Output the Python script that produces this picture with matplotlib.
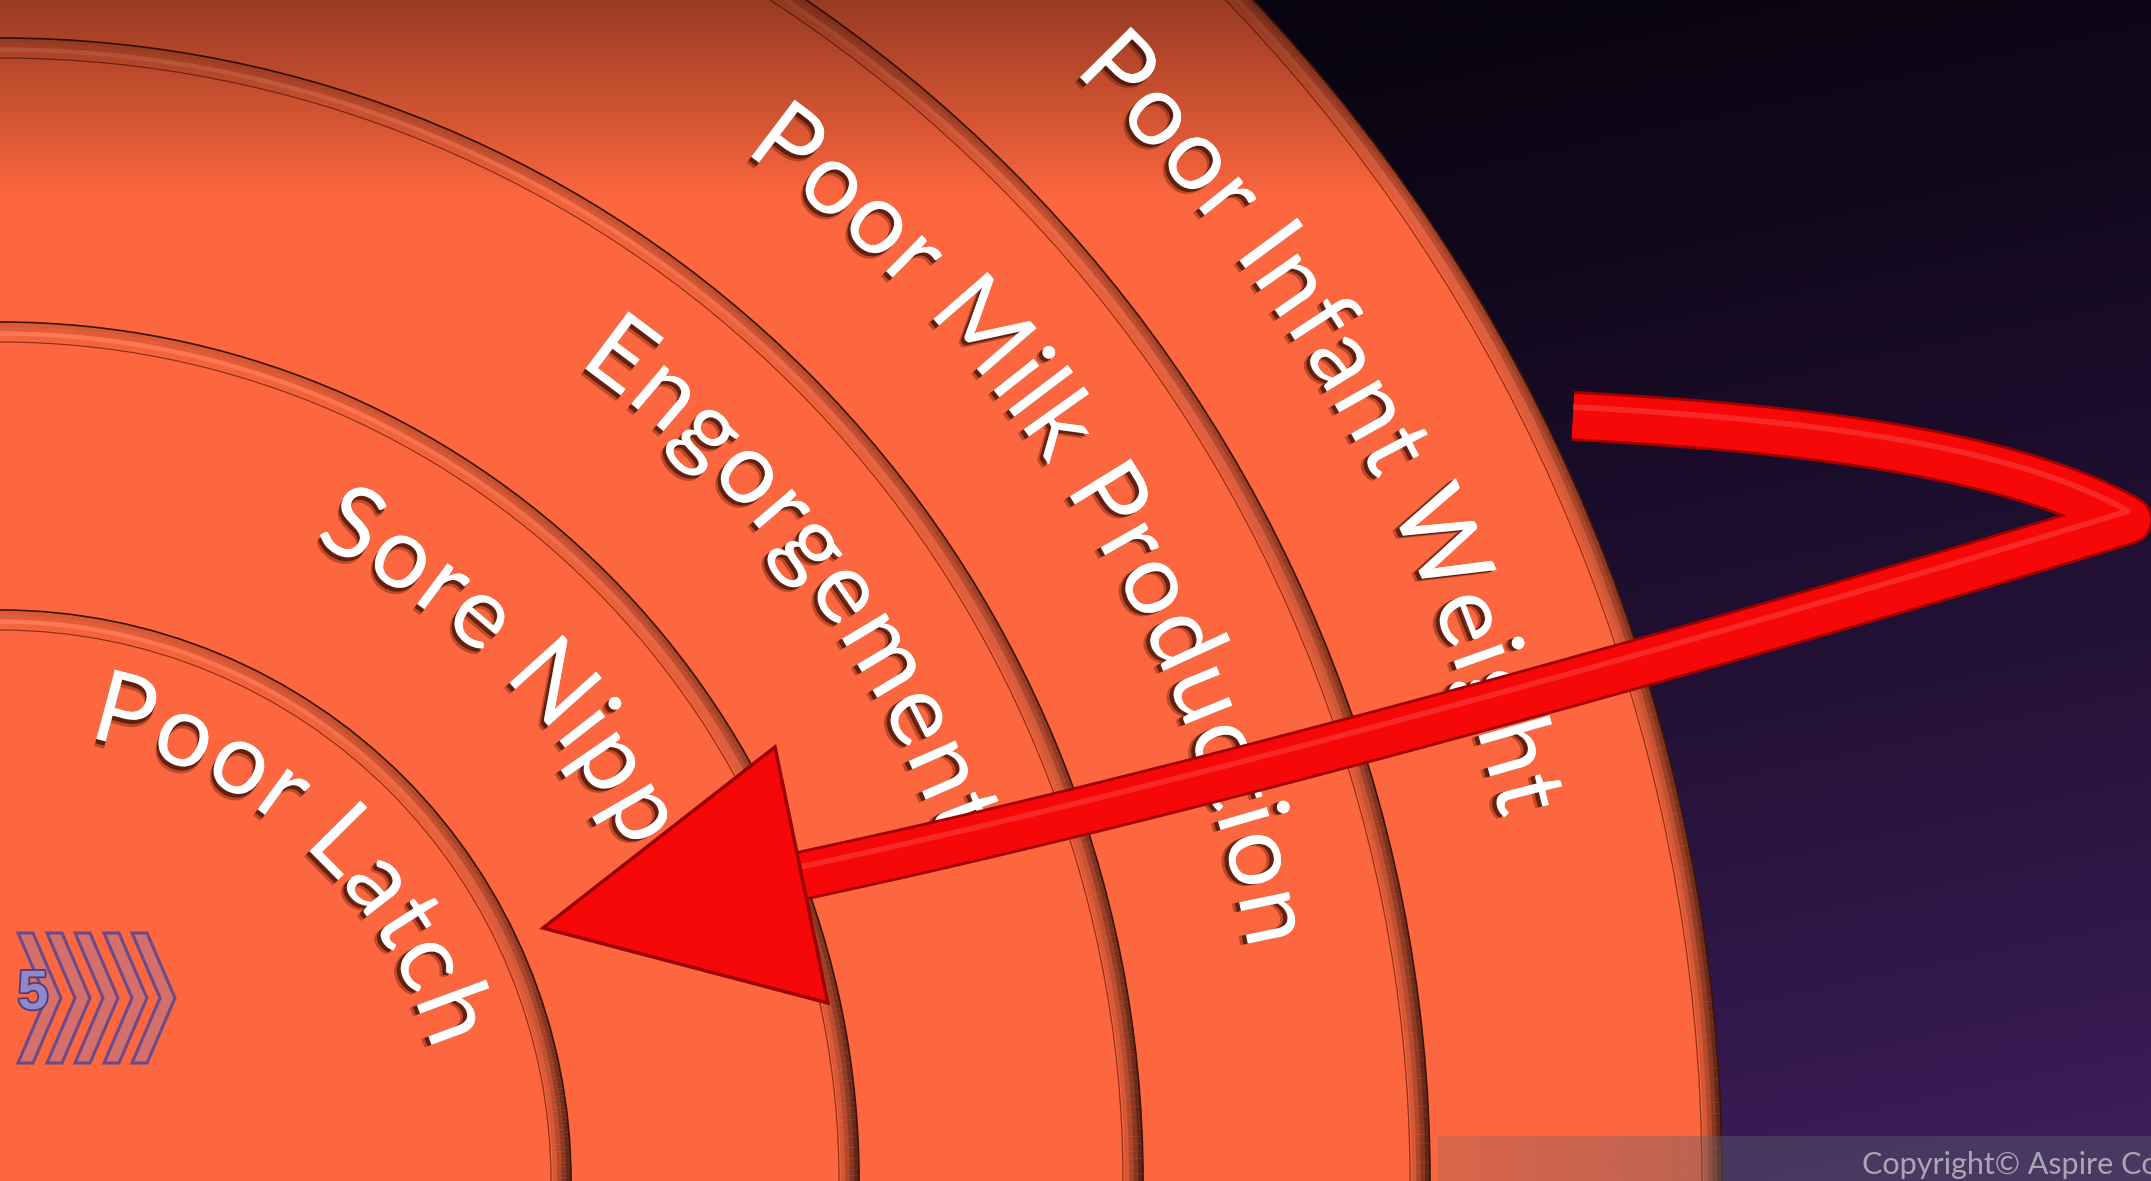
"""Concentric ring diagram: breastfeeding problem cascade with a curved red arrow."""
import numpy as np
import matplotlib

matplotlib.use("Agg")
import matplotlib.pyplot as plt
import matplotlib.patheffects as pe
from matplotlib.collections import LineCollection
from matplotlib.font_manager import FontProperties, findfont, get_font
from matplotlib.patches import Circle, Polygon

W, H = 2151, 1181

# ring labels, innermost first
labels = ["Poor Latch", "Sore Nipples", "Engorgement", "Poor Milk Production", "Poor Infant Weight"]
ring_radii = [571, 859, 1143, 1430, 1722]
label_radii = [452, 712, 1001, 1270, 1544]
label_start_deg = [79, 64, 54.8, 54.2, 46]

# step marker (bottom-left)
chevron_x = [18, 47, 75, 104, 132]
step_label = "5"

copyright_text = "Copyright\u00a9 Aspire Consulting"

# arrow geometry (bezier control points, pixel coords with origin bottom-left)
arrow_upper = [(1573, 765), (1800, 753), (2010, 728), (2128, 661)]
arrow_lower = [(2128, 661), (2000, 621), (1300, 411), (800, 305)]
arrow_head = [(775, 434), (543, 253), (828, 178)]

ORANGE = np.array([253, 103, 63]) / 255
FONT = "Lato"
FS = 72  # pt at dpi 100 -> ~100 px em
TRACK = 1.035


def bez(P, n=150):
    P = np.asarray(P, float)
    t = np.linspace(0, 1, n)[:, None]
    return (1 - t) ** 3 * P[0] + 3 * (1 - t) ** 2 * t * P[1] + 3 * (1 - t) * t ** 2 * P[2] + t ** 3 * P[3]


def bevel(ax, R):
    th = np.linspace(0, np.pi / 2, 241)
    mid = (th[:-1] + th[1:]) / 2
    light = np.sin(mid)
    for j in range(4):
        r = R - 18 + j * 4.5 + 2.25
        pts = np.column_stack([r * np.cos(th), r * np.sin(th)])
        segs = np.stack([pts[:-1], pts[1:]], axis=1)
        d = (j + 1) / 4 * (0.14 + 0.5 * (1 - light))
        cols = np.clip(ORANGE[None, :] * (1 - d[:, None]), 0, 1)
        if j == 1:
            cols = np.clip(cols + 0.10 * light[:, None], 0, 1)
        ax.add_collection(LineCollection(segs, colors=cols, linewidths=4.5 * 0.72 + 0.4,
                                         capstyle="butt", zorder=2))
    ax.add_patch(Circle((0, 0), R, fill=False, ec="#3a1408", lw=1.2, zorder=2.1))
    ax.add_patch(Circle((0, 0), R - 20, fill=False, ec="#8c3218", lw=0.9, zorder=2.1))


def arc_text(ax, text, R, start_deg, font):
    adv = []
    for c in text:
        g = font.load_char(ord(c))
        adv.append(g.linearHoriAdvance / 65536 * TRACK)
    s = np.concatenate([[0], np.cumsum(adv)[:-1]])
    th0 = np.radians(start_deg)
    for c, si, ai in zip(text, s, adv):
        if c == " ":
            continue
        th = th0 - (si + ai / 2) / R
        x, y = R * np.cos(th), R * np.sin(th)
        ox, oy = -np.cos(th) * 3.2, -np.sin(th) * 3.2
        ax.text(x, y, c, fontsize=FS, family=FONT, color="white",
                ha="center", va="baseline", rotation=np.degrees(th) - 90,
                rotation_mode="anchor", zorder=4,
                path_effects=[
                    pe.withSimplePatchShadow(offset=(ox * 1.7, oy * 1.7), shadow_rgbFace="#5a1a08", alpha=0.4),
                    pe.withSimplePatchShadow(offset=(ox, oy), shadow_rgbFace="#3e0f04", alpha=0.7),
                ])


fig = plt.figure(figsize=(W / 100, H / 100), dpi=100)
ax = fig.add_axes([0, 0, 1, 1])
ax.set_xlim(0, W)
ax.set_ylim(0, H)
ax.axis("off")

# background gradient (black top -> purple bottom right)
rows, cols = np.mgrid[0:200, 0:360]
t = 0.72 * rows / 199 + 0.28 * cols / 359
t = t ** 1.4
c0 = np.array([4, 2, 9]) / 255
c1 = np.array([62, 30, 92]) / 255
bg = c0[None, None, :] * (1 - t[..., None]) + c1[None, None, :] * t[..., None]
ax.imshow(bg, extent=(0, W, 0, H), origin="upper", aspect="auto", interpolation="bilinear", zorder=0)

# discs, outermost first
for R in ring_radii[::-1]:
    ax.add_patch(Circle((0, 0), R, fc=ORANGE, ec="none", zorder=1.5 + (1722 - R) / 10000))
    bevel(ax, R)

# darkening toward top edge, clipped to the disc
yy = np.linspace(0, 1, 200)[:, None] * np.ones((1, 4))
alpha = 0.45 * np.clip(1 - yy * H / 200, 0, 1)
shade = np.zeros((200, 4, 4))
shade[..., 0] = 0.12
shade[..., 1] = 0.02
shade[..., 3] = alpha
im = ax.imshow(shade, extent=(0, W, 0, H), origin="upper", aspect="auto", interpolation="bilinear", zorder=3)
im.set_clip_path(Circle((0, 0), ring_radii[-1], transform=ax.transData))

# curved labels
prop = FontProperties(family=FONT, size=FS)
font = get_font(findfont(prop))
font.set_size(FS, 100)
for txt, R, a0 in zip(labels, label_radii, label_start_deg):
    arc_text(ax, txt, R, a0, font)

# step marker chevrons
for x0 in chevron_x:
    pts = [(x0, 248), (x0 + 15, 248), (x0 + 43, 183), (x0 + 15, 118), (x0, 118), (x0 + 28, 183)]
    ax.add_patch(Polygon(pts, closed=True, fc="#D46F6C", ec="#6A4A8A", lw=2.2, zorder=5))
ax.text(33, 186, step_label, fontsize=40, family="Liberation Sans", weight="bold", color="#9088CC",
        ha="center", va="center", zorder=6,
        path_effects=[pe.withStroke(linewidth=2.5, foreground="#4B3C78")])

# red arrow
curve = np.vstack([bez(arrow_upper), bez(arrow_lower)[1:]])
ax.plot(curve[:, 0], curve[:, 1], color="#A00000", lw=36, solid_capstyle="butt",
        solid_joinstyle="round", zorder=7)
ax.plot(curve[:, 0], curve[:, 1], color="#F60808", lw=32, solid_capstyle="butt",
        solid_joinstyle="round", zorder=7.1)
ax.plot(curve[:, 0], curve[:, 1] + 9, color="#FF5A5A", lw=4, alpha=0.4,
        solid_capstyle="butt", zorder=7.2)
ax.add_patch(Polygon(arrow_head, closed=True, fc="#F60808", ec="#9A0000", lw=2.5,
                     joinstyle="miter", zorder=7.5))

# copyright strip
bar_x0 = 1438
xs = np.linspace(0, 1, 200)
bar = np.zeros((1, 200, 4))
bar[..., 0] = 95 / 255
bar[..., 1] = 95 / 255
bar[..., 2] = 112 / 255
bar[..., 3] = 0.22 + 0.2 * np.clip(xs * (W - bar_x0) / 280, 0, 1)
ax.imshow(bar, extent=(bar_x0, W, 0, 45), origin="upper", aspect="auto", interpolation="bilinear", zorder=8)
ax.text(1862, 7, copyright_text, fontsize=22, family=FONT, color="#A9A7B3",
        ha="left", va="baseline", zorder=9)

ax.set_xlim(0, W)
ax.set_ylim(0, H)
fig.savefig("out.png", dpi=100)
